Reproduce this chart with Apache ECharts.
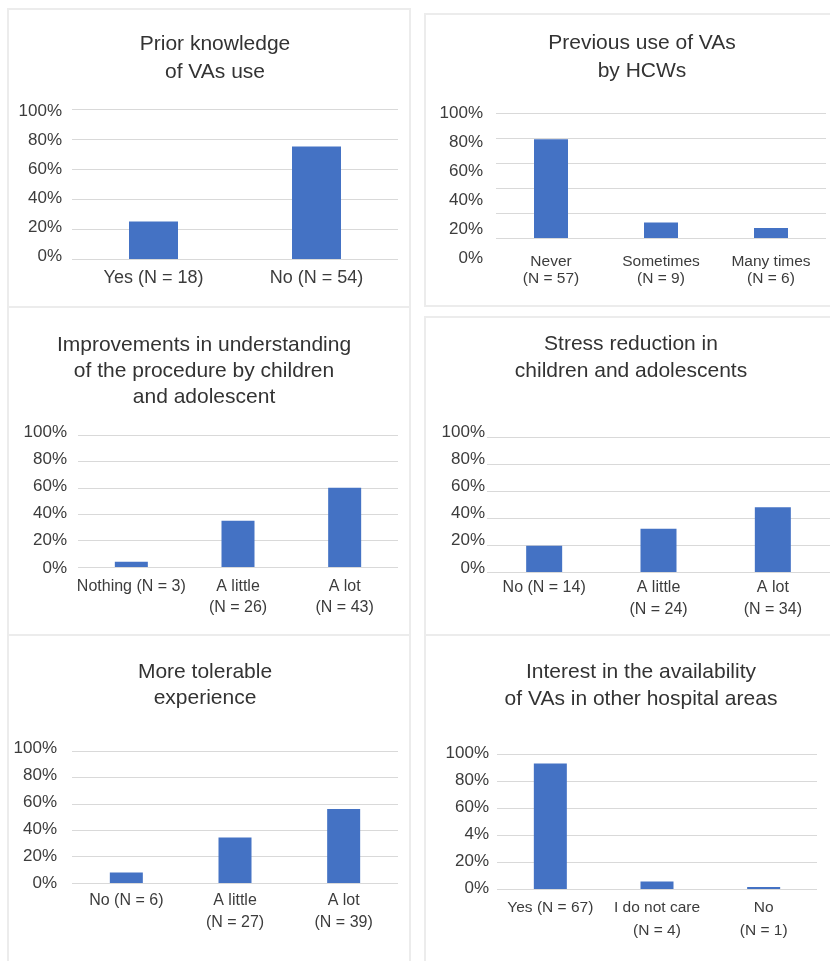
<!DOCTYPE html>
<html>
<head>
<meta charset="utf-8">
<script src="https://cdn.jsdelivr.net/npm/echarts@6/dist/echarts.min.js"></script>
<style>
  html, body { margin: 0; padding: 0; background: #ffffff; }
  #chart { width: 830px; height: 961px; }
</style>
</head>
<body>
<div id="chart"></div>
<script>
// ---- Survey data (share of respondents, %) ----
const catsPrior = ['Yes (N = 18)', 'No (N = 54)'];
const valsPrior = [25, 75];

const catsPrevious = ['Never\n(N = 57)', 'Sometimes\n(N = 9)', 'Many times\n(N = 6)'];
const valsPrevious = [79, 12.5, 8];

const catsUnderstanding = ['Nothing (N = 3)', 'A little\n(N = 26)', 'A lot\n(N = 43)'];
const valsUnderstanding = [4, 35, 60];

const catsStress = ['No (N = 14)', 'A little\n(N = 24)', 'A lot\n(N = 34)'];
const valsStress = [19.5, 32, 48];

const catsTolerable = ['No (N = 6)', 'A little\n(N = 27)', 'A lot\n(N = 39)'];
const valsTolerable = [8, 34.5, 56];

const catsInterest = ['Yes (N = 67)', 'I do not care\n(N = 4)', 'No\n(N = 1)'];
const valsInterest = [93, 5.5, 1.5];

// y-axis tick labels, bottom to top
const yTicks = ['0%', '20%', '40%', '60%', '80%', '100%'];
const yTicksInterest = ['0%', '20%', '4%', '60%', '80%', '100%'];

const titlePrior = ['Prior knowledge', 'of VAs use'];
const titlePrevious = ['Previous use of VAs', 'by HCWs'];
const titleUnderstanding = ['Improvements in understanding', 'of the procedure by children', 'and adolescent'];
const titleStress = ['Stress reduction in', 'children and adolescents'];
const titleTolerable = ['More tolerable', 'experience'];
const titleInterest = ['Interest in the availability', 'of VAs in other hospital areas'];

// ---- Panel layout ----
const FONT = '"Liberation Sans", Arial, Helvetica, sans-serif';
const TEXT = '#3c3c3c';
const BAR = '#4472C4';
const GRID_LINE = '#d9d9d9';

const panels = [
  { box: [8, 9, 402, 298], title: titlePrior, tx: 215, ty: 44, tlh: 28,
    cats: catsPrior, vals: valsPrior, ticks: yTicks,
    plot: { left: 72, top: 109, width: 326, height: 150 }, barWidth: 49,
    lab: { right: 62, top: 111, height: 145 },
    xFont: 18, xLh: 20, xMargin: 9 },
  { box: [425, 14, 410, 292], title: titlePrevious, tx: 642, ty: 43, tlh: 28,
    cats: catsPrevious, vals: valsPrevious, ticks: yTicks,
    plot: { left: 496, top: 113, width: 330, height: 125 }, barWidth: 34,
    lab: { right: 483, top: 113, height: 145 },
    xFont: 15.5, xLh: 17, xMargin: 15 },
  { box: [8, 307, 402, 328], title: titleUnderstanding, tx: 204, ty: 345, tlh: 26,
    cats: catsUnderstanding, vals: valsUnderstanding, ticks: yTicks,
    plot: { left: 78, top: 435, width: 320, height: 132 }, barWidth: 33,
    lab: { right: 67, top: 432, height: 136 },
    xFont: 16, xLh: 21, xMargin: 9 },
  { box: [425, 317, 410, 318], title: titleStress, tx: 631, ty: 344, tlh: 27,
    cats: catsStress, vals: valsStress, ticks: yTicks,
    plot: { left: 487, top: 437, width: 357, height: 135 }, barWidth: 36,
    lab: { right: 485, top: 432, height: 136 },
    xFont: 16, xLh: 22, xMargin: 5 },
  { box: [8, 635, 402, 330], title: titleTolerable, tx: 205, ty: 672, tlh: 26,
    cats: catsTolerable, vals: valsTolerable, ticks: yTicks,
    plot: { left: 72, top: 751, width: 326, height: 132 }, barWidth: 33,
    lab: { right: 57, top: 748, height: 135 },
    xFont: 16, xLh: 22, xMargin: 7 },
  { box: [425, 635, 410, 330], title: titleInterest, tx: 641, ty: 672, tlh: 27,
    cats: catsInterest, vals: valsInterest, ticks: yTicksInterest,
    plot: { left: 497, top: 754, width: 320, height: 135 }, barWidth: 33,
    lab: { right: 489, top: 753, height: 135 },
    xFont: 15.5, xLh: 23, xMargin: 7 }
];

const grid = [], xAxis = [], yAxis = [], series = [], graphic = [];

panels.forEach((p) => {
  // panel frame
  graphic.push({
    type: 'rect', silent: true, z: 0,
    shape: { x: p.box[0], y: p.box[1], width: p.box[2], height: p.box[3] },
    style: { fill: 'none', stroke: '#ececec', lineWidth: 2 }
  });
  // panel heading
  p.title.forEach((line, k) => {
    graphic.push({
      type: 'text', silent: true, z: 10,
      style: {
        text: line, x: p.tx, y: p.ty + k * p.tlh,
        textAlign: 'center', textVerticalAlign: 'middle',
        font: '21px ' + FONT, fill: '#333333'
      }
    });
  });

  // plotting grid (bars + gridlines)
  const gPlot = grid.length;
  grid.push(Object.assign({ containLabel: false }, p.plot));
  xAxis.push({
    type: 'category', gridIndex: gPlot, data: p.cats,
    axisLine: { show: false }, axisTick: { show: false },
    axisLabel: {
      interval: 0, color: TEXT, fontFamily: FONT,
      fontSize: p.xFont, lineHeight: p.xLh, margin: p.xMargin
    }
  });
  yAxis.push({
    type: 'value', gridIndex: gPlot, min: 0, max: 100, interval: 20,
    axisLine: { show: false }, axisTick: { show: false },
    axisLabel: { show: false },
    splitLine: { lineStyle: { color: GRID_LINE, width: 1.2 } }
  });
  series.push({
    type: 'bar', xAxisIndex: gPlot, yAxisIndex: gPlot,
    data: p.vals, barWidth: p.barWidth,
    itemStyle: { color: BAR }, silent: true, animation: false
  });

  // tick-label grid (percent labels)
  const gLab = grid.length;
  grid.push({ left: p.lab.right + 8, top: p.lab.top, width: 10, height: p.lab.height });
  xAxis.push({ type: 'value', gridIndex: gLab, show: false, min: 0, max: 1 });
  const ticks = p.ticks;
  yAxis.push({
    type: 'value', gridIndex: gLab, min: 0, max: 100, interval: 20,
    axisLine: { show: false }, axisTick: { show: false },
    splitLine: { show: false },
    axisLabel: {
      margin: 8, color: TEXT, fontFamily: FONT, fontSize: 17,
      formatter: v => ticks[Math.round(v / 20)]
    }
  });
});

const chart = echarts.init(document.getElementById('chart'), null, { renderer: 'canvas' });
chart.setOption({
  backgroundColor: '#ffffff',
  animation: false,
  grid, xAxis, yAxis, series, graphic
});
</script>
</body>
</html>
